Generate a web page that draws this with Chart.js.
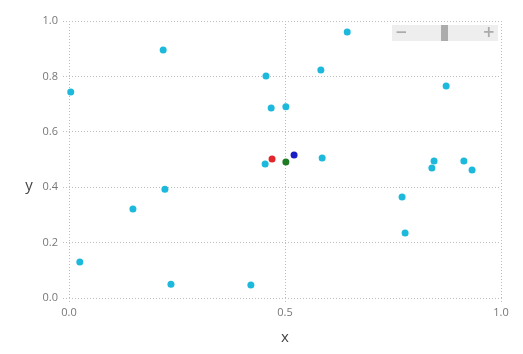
<!DOCTYPE html>
<html>
<head>
<meta charset="utf-8">
<script src="https://cdn.jsdelivr.net/npm/chart.js@4/dist/chart.umd.min.js"></script>
<style>
  html, body { margin: 0; padding: 0; background: #fff; }
  #wrap { position: relative; width: 523px; height: 354px; }
  #slider {
    position: absolute; left: 392px; top: 25px; width: 106px; height: 16px;
    background: rgba(236,236,236,0.9); font-family: "DejaVu Sans", sans-serif;
  }
  #slider .minus, #slider .plus {
    position: absolute; top: -1px; color: #ababab; font-size: 15px; font-weight: bold; line-height: 16px;
  }
  #slider .minus { left: 3px; }
  #slider .plus { right: 3px; }
  #slider .handle { position: absolute; left: 49px; top: 0; width: 7px; height: 16px; background: #acacac; }
</style>
</head>
<body>
<div id="wrap">
  <canvas id="chart" width="523" height="354"></canvas>
  <div id="slider"><span class="minus">&minus;</span><span class="handle"></span><span class="plus">+</span></div>
</div>
<script>
"use strict";

// data
const pointsX = [0.004, 0.025, 0.148, 0.218, 0.222, 0.236, 0.421, 0.456, 0.454, 0.468, 0.502,
                 0.583, 0.586, 0.644, 0.771, 0.778, 0.840, 0.845, 0.873, 0.914, 0.933];
const pointsY = [0.744, 0.130, 0.321, 0.895, 0.393, 0.050, 0.047, 0.801, 0.484, 0.686, 0.690,
                 0.823, 0.505, 0.960, 0.365, 0.235, 0.469, 0.495, 0.765, 0.495, 0.462];
const redPoint = [0.470, 0.502];
const greenPoint = [0.502, 0.491];
const bluePoint = [0.521, 0.516];
const xTicks = [0, 0.5, 1.0];
const yTicks = [0, 0.2, 0.4, 0.6, 0.8, 1.0];

const toXY = (xs, ys) => xs.map((x, i) => ({ x: x, y: ys[i] }));

const axisTitles = {
  id: "axisTitles",
  afterDraw(chart) {
    const c = chart.ctx, a = chart.chartArea;
    c.save();
    c.fillStyle = "#444";
    c.font = "15px 'Open Sans', sans-serif";
    c.textAlign = "center";
    c.textBaseline = "middle";
    c.fillText("x", (a.left + a.right) / 2, 338);
    c.fillText("y", 29, (a.top + a.bottom) / 2 + 26);
    c.restore();
  }
};

const grid = {
  color: "#bdbdbd",
  lineWidth: 1,
  tickLength: 6,
  borderDash: [1, 2],
  tickBorderDash: [1, 2],
  drawTicks: true,
};

const dot = (color) => ({ backgroundColor: color, borderWidth: 0, pointRadius: 3.5, clip: false });

new Chart(document.getElementById("chart"), {
  type: "scatter",
  data: {
    datasets: [
      Object.assign({ data: toXY(pointsX, pointsY) }, dot("#1db9dc")),
      Object.assign({ data: [{ x: redPoint[0], y: redPoint[1] }] }, dot("#e2262c")),
      Object.assign({ data: [{ x: greenPoint[0], y: greenPoint[1] }] }, dot("#1e7b23")),
      Object.assign({ data: [{ x: bluePoint[0], y: bluePoint[1] }] }, dot("#1a1fc4")),
    ],
  },
  options: {
    responsive: false,
    animation: false,
    events: [],
    layout: { padding: { left: 0, top: 21, right: 22, bottom: 0 } },
    plugins: { legend: { display: false }, tooltip: { enabled: false } },
    scales: {
      x: {
        type: "linear", min: 0, max: 1,
        border: { display: false, dash: [1, 2] },
        grid: Object.assign({}, grid),
        afterBuildTicks: s => { s.ticks = xTicks.map(v => ({ value: v })); },
        afterFit: s => { s.height = 56; },
        ticks: {
          color: "#777", padding: 2,
          font: { size: 11, family: "'Open Sans', sans-serif" },
          callback: v => v.toFixed(1),
        },
      },
      y: {
        type: "linear", min: 0, max: 1,
        border: { display: false, dash: [1, 2] },
        grid: Object.assign({}, grid),
        afterBuildTicks: s => { s.ticks = yTicks.map(v => ({ value: v })); },
        afterFit: s => { s.width = 69; },
        ticks: {
          color: "#777", padding: 5,
          font: { size: 11, family: "'Open Sans', sans-serif" },
          callback: v => v.toFixed(1),
        },
      },
    },
  },
  plugins: [axisTitles],
});
</script>
</body>
</html>
